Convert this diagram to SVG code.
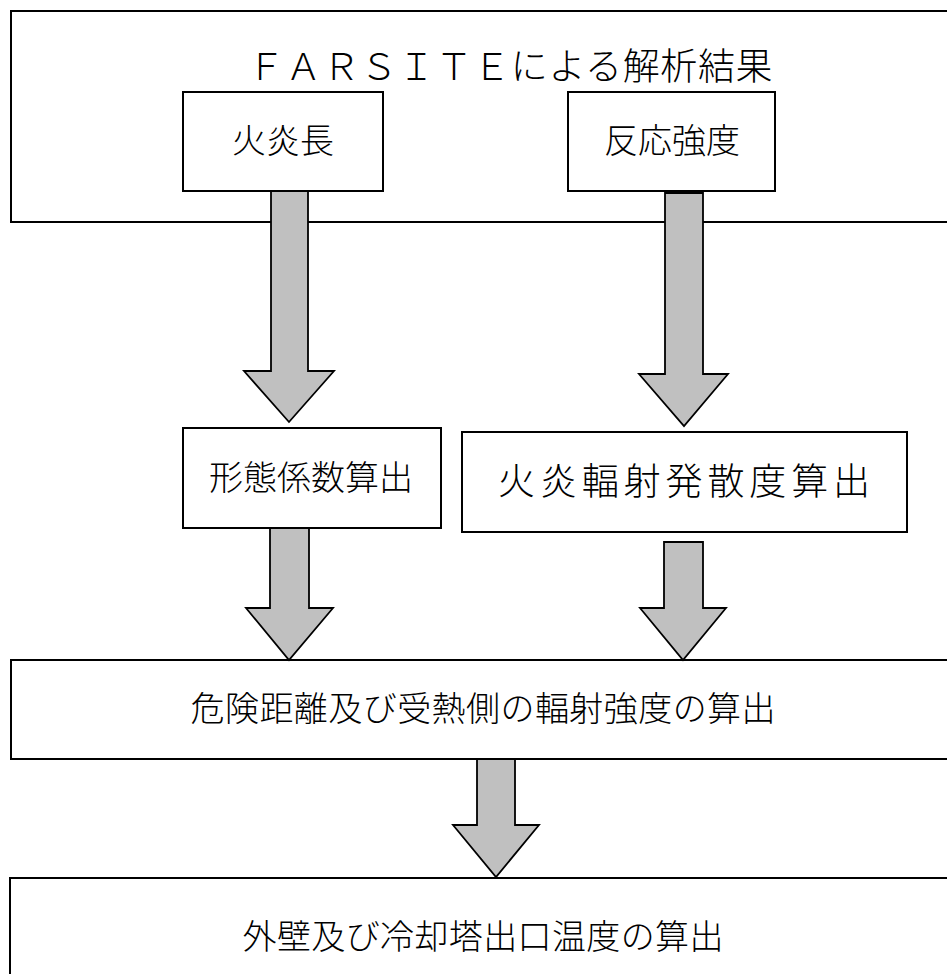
<svg xmlns="http://www.w3.org/2000/svg" width="947" height="974" viewBox="0 0 947 974">
<style>
.box{fill:#fff;stroke:#000;stroke-width:2}
.arrow{fill:#c0c0c0;stroke:#000;stroke-width:1.8;stroke-linejoin:miter}
.t{font-family:"Liberation Serif","Noto Sans CJK JP",serif;font-size:34px;fill:#000;text-anchor:middle;dominant-baseline:central;font-weight:300}
</style>
<rect width="947" height="974" fill="#fff"/>
<g id="farsite">
<rect class="box" x="11" y="11" width="945" height="211"/>
<text class="t" x="510" y="67" style="font-size:37px" textLength="525" lengthAdjust="spacing">ＦＡＲＳＩＴＥによる解析結果</text>
</g>
<g id="flame-length">
<rect class="box" x="183" y="92" width="200" height="99"/>
<text class="t" x="283" y="141">火炎長</text>
</g>
<g id="reaction-intensity">
<rect class="box" x="568" y="92" width="207" height="99"/>
<text class="t" x="672" y="141">反応強度</text>
</g>
<g id="view-factor">
<rect class="box" x="183" y="428" width="258" height="100"/>
<text class="t" x="311" y="478">形態係数算出</text>
</g>
<g id="emissive-power">
<rect class="box" x="462" y="432" width="445" height="100"/>
<text class="t" x="684" y="482" style="font-size:37px" textLength="372" lengthAdjust="spacing">火炎輻射発散度算出</text>
</g>
<g id="danger-distance">
<rect class="box" x="11" y="660" width="945" height="99"/>
<text class="t" x="483" y="709" textLength="585" lengthAdjust="spacing">危険距離及び受熱側の輻射強度の算出</text>
</g>
<g id="outlet-temp">
<rect class="box" x="10" y="878" width="946" height="110"/>
<text class="t" x="483" y="937" textLength="481" lengthAdjust="spacing">外壁及び冷却塔出口温度の算出</text>
</g>
<g id="connectors">
<polygon class="arrow" points="271,191 308,191 308,371 334,371 289,422 244,371 271,371"/>
<polygon class="arrow" points="665,193 703,193 703,374 728,374 684,426 639,374 665,374"/>
<polygon class="arrow" points="270,528 309,528 309,608 333,608 289,660 246,608 270,608"/>
<polygon class="arrow" points="664,542 703,542 703,608 726,608 683,660 640,608 664,608"/>
<polygon class="arrow" points="477,759 515,759 515,825 539,825 496,877 453,825 477,825"/>
</g>
</svg>
